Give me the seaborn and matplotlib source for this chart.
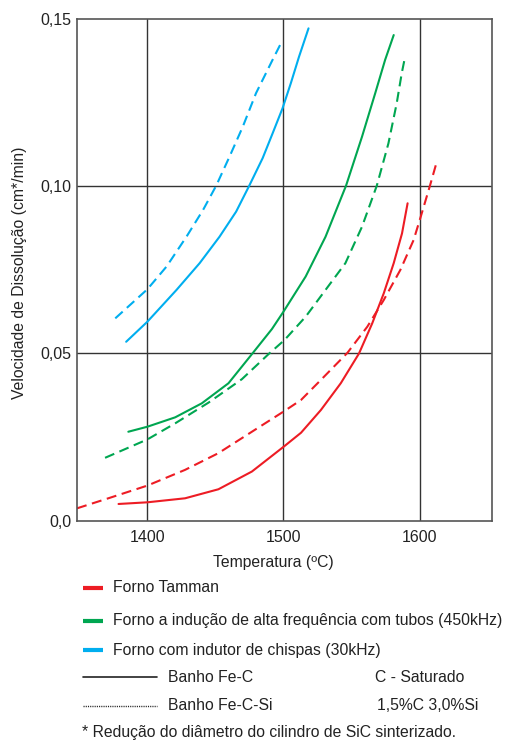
import numpy as np
import pandas as pd
import matplotlib
matplotlib.use('Agg')
import matplotlib.pyplot as plt
from matplotlib.lines import Line2D
import seaborn as sns

# curves: temperature (ºC) vs dissolution rate (cm*/min)
tamman_fec_t = [1378.8, 1400, 1427.7, 1452.2, 1476.8, 1500.7, 1512.9, 1527.5,
                1542.1, 1555.5, 1565.2, 1573.7, 1581, 1587.1, 1591.2]
tamman_fec_v = [0.0050, 0.0055, 0.0067, 0.0094, 0.0147, 0.0223, 0.0263, 0.0331,
                0.0411, 0.0500, 0.0590, 0.0680, 0.0770, 0.0859, 0.0949]
tamman_fecsi_t = [1348.3, 1371.3, 1400, 1427.7, 1452.2, 1476.8, 1500.7, 1512.9,
                  1527.5, 1547, 1561.6, 1573.7, 1585.9, 1595.6, 1600.5, 1607.8, 1612.7]
tamman_fecsi_v = [0.0037, 0.0067, 0.0105, 0.0152, 0.0202, 0.0266, 0.0328, 0.0361,
                  0.0421, 0.0502, 0.0580, 0.0660, 0.0750, 0.0839, 0.0904, 0.1004, 0.1074]

inducao_fec_t = [1386, 1400, 1420.4, 1440, 1459.6, 1476.8, 1491.5, 1500,
                 1516.3, 1530.9, 1546, 1557.7, 1567.4, 1574.7, 1581]
inducao_fec_v = [0.0266, 0.0281, 0.0309, 0.0351, 0.0411, 0.0498, 0.0573, 0.0625,
                 0.0730, 0.0849, 0.1002, 0.1148, 0.1278, 0.1378, 0.1452]
inducao_fecsi_t = [1368.9, 1400, 1420.4, 1444.9, 1469.4, 1489, 1500.7, 1516.3,
                   1530.9, 1545.5, 1557.7, 1568.6, 1577.1, 1583.2, 1586.9, 1589.5]
inducao_fecsi_v = [0.0188, 0.0243, 0.0291, 0.0353, 0.0423, 0.0498, 0.0540, 0.0610,
                   0.0690, 0.0770, 0.0879, 0.1002, 0.1128, 0.1248, 0.1338, 0.1390]

chispas_fec_t = [1384.4, 1400, 1421.4, 1438.4, 1453, 1465.2, 1474.9, 1484.7,
                 1492, 1499.3, 1505.4, 1511.4, 1518.4]
chispas_fec_v = [0.0535, 0.0595, 0.0690, 0.0770, 0.0849, 0.0924, 0.1002, 0.1084,
                 0.1158, 0.1233, 0.1308, 0.1387, 0.1472]
chispas_fecsi_t = [1376.4, 1400, 1414.1, 1428.7, 1440.9, 1450.6, 1460.3, 1470.1,
                   1479.8, 1492, 1498.1]
chispas_fecsi_v = [0.0605, 0.0692, 0.0760, 0.0849, 0.0929, 0.1002, 0.1088, 0.1178,
                   0.1278, 0.1378, 0.1427]

x_ticks = [1400, 1500, 1600]
y_ticks = [0.0, 0.05, 0.10, 0.15]
y_tick_labels = ['0,0', '0,05', '0,10', '0,15']

fornos = ['Forno Tamman',
          'Forno a indução de alta frequência com tubos (450kHz)',
          'Forno com indutor de chispas (30kHz)']
cores = {fornos[0]: '#ED1C24', fornos[1]: '#00A651', fornos[2]: '#00AEEF'}
banhos = ['Fe-C', 'Fe-C-Si']

series = [
    (fornos[0], banhos[0], tamman_fec_t, tamman_fec_v),
    (fornos[0], banhos[1], tamman_fecsi_t, tamman_fecsi_v),
    (fornos[1], banhos[0], inducao_fec_t, inducao_fec_v),
    (fornos[1], banhos[1], inducao_fecsi_t, inducao_fecsi_v),
    (fornos[2], banhos[0], chispas_fec_t, chispas_fec_v),
    (fornos[2], banhos[1], chispas_fecsi_t, chispas_fecsi_v),
]
df = pd.concat([pd.DataFrame({'temp': t, 'vel': v, 'forno': f, 'banho': b})
                for f, b, t, v in series], ignore_index=True)

sns.set_theme(style='white')
plt.rcParams['font.family'] = ['Liberation Sans', 'DejaVu Sans']

W, H = 505, 742
FS = 11.3
TXT = '#222222'
fig = plt.figure(figsize=(W / 100, H / 100), dpi=100)
ax = fig.add_axes([77.3 / W, 1 - 520.7 / H, 414.4 / W, 501.7 / H])

for x in x_ticks:
    ax.axvline(x, color='#333333', lw=1.0, zorder=0)
for y in y_ticks[1:3]:
    ax.axhline(y, color='#333333', lw=1.0, zorder=0)

sns.lineplot(data=df, x='temp', y='vel', hue='forno', style='banho',
             units='banho', estimator=None, sort=False, palette=cores,
             dashes={'Fe-C': '', 'Fe-C-Si': (4.8, 2.7)}, lw=1.5,
             legend=False, ax=ax)

ax.set_xlim(1348.5, 1653)
ax.set_ylim(0, 0.15)
ax.set_xticks(x_ticks)
ax.set_xticklabels([str(x) for x in x_ticks])
ax.set_yticks(y_ticks)
ax.set_yticklabels(y_tick_labels)
ax.tick_params(axis='both', length=0, labelsize=11.5, colors=TXT)
ax.tick_params(axis='x', pad=7)
ax.tick_params(axis='y', pad=4)
for s in ax.spines.values():
    s.set_color('#555555')
    s.set_linewidth(1.2)

ax.set_xlabel('Temperatura (ºC)', fontsize=FS, color=TXT)
ax.xaxis.set_label_coords(0.472, -0.068)
ax.xaxis.label.set_va('top')
ax.set_ylabel('Velocidade de Dissolução (cm*/min)', fontsize=FS, color=TXT)
ax.yaxis.set_label_coords(-0.121, 0.495)

# legend block below the chart
def fx(px):
    return px / W

def fy(py):
    return 1 - py / H

for forno, yc in zip(fornos, [588, 621, 650]):
    fig.add_artist(Line2D([fx(83), fx(103)], [fy(yc), fy(yc)],
                          color=cores[forno], lw=3, solid_capstyle='butt'))
    fig.text(fx(113), fy(yc), forno, fontsize=FS, va='center', color=TXT)

fig.add_artist(Line2D([fx(83), fx(157)], [fy(677), fy(677)], color=TXT, lw=1.2))
fig.text(fx(168), fy(677), 'Banho Fe-C', fontsize=FS, va='center', color=TXT)
fig.text(fx(375), fy(677), 'C - Saturado', fontsize=FS, va='center', color=TXT)

fig.add_artist(Line2D([fx(83), fx(157)], [fy(706), fy(706)], color=TXT, lw=1.0,
                      ls=(0, (0.8, 0.8))))
fig.text(fx(168), fy(706), 'Banho Fe-C-Si', fontsize=FS, va='center', color=TXT)
fig.text(fx(377), fy(706), '1,5%C 3,0%Si', fontsize=FS, va='center', color=TXT)

fig.text(fx(81.7), fy(733), '* Redução do diâmetro do cilindro de SiC sinterizado.',
         fontsize=FS, va='center', color=TXT)

fig.savefig('out.png', dpi=100)
